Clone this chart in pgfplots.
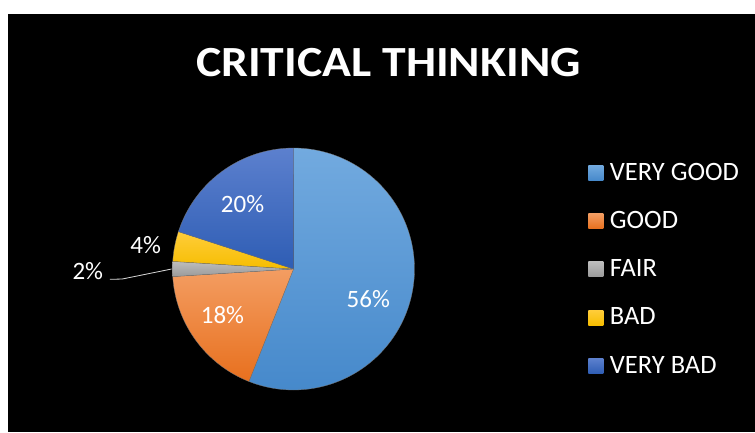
\documentclass[border=0pt]{standalone}
\usepackage{pgfplots}
\pgfplotsset{compat=1.18}
\usepackage{pgfplotstable}
\usepackage{fontspec}
\setmainfont{Carlito}
\definecolor{vgT}{HTML}{72AADF}
\definecolor{vgB}{HTML}{4689CB}
\definecolor{gT}{HTML}{F39D62}
\definecolor{gB}{HTML}{E8701E}
\definecolor{fT}{HTML}{BDBDBD}
\definecolor{fB}{HTML}{9A9A9A}
\definecolor{bT}{HTML}{FFCD3A}
\definecolor{bB}{HTML}{F6BD00}
\definecolor{vbT}{HTML}{5C80CE}
\definecolor{vbB}{HTML}{2E5DB4}
% start (%), share (%), top colour, bottom colour, name
\newcommand\slice[5]{%
  \pgfmathsetmacro\sa{90-#1*3.6}%
  \pgfmathsetmacro\sb{90-(#1+#2)*3.6}%
  \edef\tmp{\noexpand\addplot[top color=#3, bottom color=#4, draw=black!55, line width=0.3pt, domain=\sb:\sa, samples=150] ({cos(x)},{sin(x)}) -- (axis cs:0,0) -- cycle;}%
  \tmp
  \addlegendentry{#5}%
}
\begin{document}
\begin{tikzpicture}
\fill[white] (0pt,0pt) rectangle (755pt,432pt);
\fill[black] (8pt,0pt) rectangle (755pt,418pt);
\node[anchor=base, text=white, inner sep=0pt, font=\fontsize{43}{43}\selectfont\bfseries] at (388.5pt,355pt) {\scalebox{1.11}[1]{CRITICAL THINKING}};
\begin{axis}[
  at={(293.5pt,163pt)}, anchor=center,
  width=242pt, height=242pt, scale only axis,
  xmin=-1, xmax=1, ymin=-1, ymax=1,
  hide axis, clip=false,
  legend image code/.code={\pgfpathrectangle{\pgfpoint{0pt}{-20pt}}{\pgfpoint{15pt}{40pt}}\pgfusepath{use as bounding box}\fill[#1, draw=none] (0pt,-8pt) rectangle (15pt,7pt);},
  legend cell align=left,
  legend style={draw=none, fill=none, text=white, inner sep=0pt,
    font=\fontsize{26.5}{26.5}\selectfont,
    at={(axis description cs:1.718,0.983)}, anchor=north west,
    nodes={inner sep=0pt}, column sep=6.5pt, row sep=8.3pt},
]
\slice{0}{56}{vgT}{vgB}{VERY GOOD}
\slice{56}{18}{gT}{gB}{GOOD}
\slice{74}{2}{fT}{fB}{FAIR}
\slice{76}{4}{bT}{bB}{BAD}
\slice{80}{20}{vbT}{vbB}{VERY BAD}
\draw[white!85!black, line width=0.8pt] (axis cs:-1.517,-0.085) -- (axis cs:-1.417,-0.083) -- (axis cs:-1.007,0.0);
\node[text=white, font=\fontsize{25}{25}\selectfont] at (axis cs:0.618,-0.248) {56\%};
\node[text=white, font=\fontsize{25}{25}\selectfont] at (axis cs:-0.587,-0.384) {18\%};
\node[text=white, font=\fontsize{25}{25}\selectfont] at (axis cs:-0.421,0.537) {20\%};
\node[text=white, font=\fontsize{25}{25}\selectfont] at (axis cs:-1.221,0.198) {4\%};
\node[text=white, font=\fontsize{25}{25}\selectfont] at (axis cs:-1.70,-0.017) {2\%};
\end{axis}
\end{tikzpicture}
\end{document}
